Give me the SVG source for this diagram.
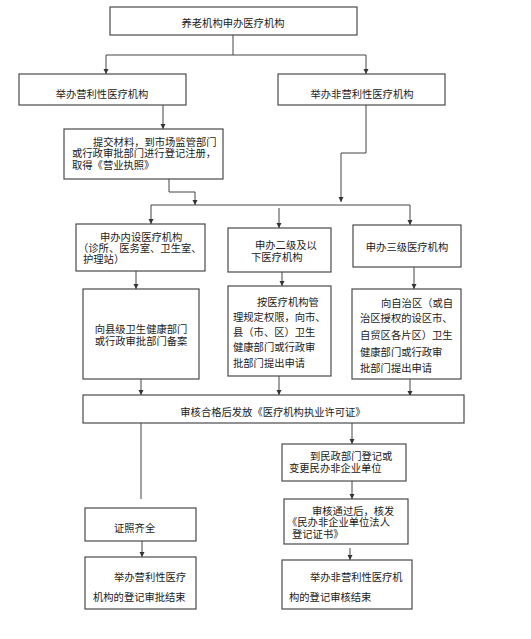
<svg xmlns="http://www.w3.org/2000/svg" width="531" height="639" viewBox="0 0 531 639">
<defs>
<marker id="ah" markerUnits="userSpaceOnUse" markerWidth="6" markerHeight="6" refX="5" refY="2.5" orient="auto">
<path d="M0,0 L5,2.5 L0,5 z" fill="#333"/>
</marker>
<style>
.box{fill:#fff;stroke:#4a4a4a;stroke-width:1.2}
.ln{fill:none;stroke:#444;stroke-width:1}
.ar{marker-end:url(#ah)}
text{font-family:"Noto Sans CJK SC","Noto Sans",sans-serif;font-size:10.3px;fill:#1a1a1a}
.c{text-anchor:middle}
</style>
</defs>
<rect width="531" height="639" fill="#fff"/>
<g id="connectors">
<path class="ln" d="M233 35V55M106 55H366"/>
<path class="ln ar" d="M106 55V74"/>
<path class="ln ar" d="M366 55V74"/>
<path class="ln ar" d="M163 105V129"/>
<path class="ln ar" d="M366 105V153H341V202"/>
<path class="ln ar" d="M169 179V192H195V205"/>
<path class="ln" d="M151 205H410"/>
<path class="ln ar" d="M151 205V224"/>
<path class="ln ar" d="M410 205V225"/>
<path class="ln ar" d="M279 208V228"/>
<path class="ln ar" d="M136 271V289"/>
<path class="ln ar" d="M282 272V286"/>
<path class="ln ar" d="M414 267V289"/>
<path class="ln ar" d="M141 379V395"/>
<path class="ln ar" d="M279 376V395"/>
<path class="ln ar" d="M410 379V396"/>
<path class="ln" d="M141 423V499"/>
<path class="ln ar" d="M352 423V444"/>
<path class="ln ar" d="M352 481V499"/>
<path class="ln ar" d="M350 548V560"/>
<path class="ln ar" d="M142 541V557"/>
</g>
<g id="n-top"><rect class="box" x="110" y="7" width="247" height="28"/><text class="c" x="233" y="27">养老机构申办医疗机构</text></g>
<g id="n-profit"><rect class="box" x="19" y="74" width="167" height="31"/><text class="c" x="102" y="98">举办营利性医疗机构</text></g>
<g id="n-nonprofit"><rect class="box" x="278" y="74" width="167" height="31"/><text class="c" x="362" y="98">举办非营利性医疗机构</text></g>
<g id="n-license"><rect class="box" x="64" y="129" width="159" height="50"/>
<text x="93" y="146">提交材料，到市场监管部门</text>
<text x="72" y="157">或行政审批部门进行登记注册，</text>
<text x="72" y="169">取得《营业执照》</text></g>
<g id="n-internal"><rect class="box" x="76" y="224" width="129" height="47"/>
<text x="100" y="241">申办内设医疗机构</text>
<text x="78" y="252">（诊所、医务室、卫生室、</text>
<text x="83" y="263">护理站）</text></g>
<g id="n-level2"><rect class="box" x="228" y="228" width="103" height="44"/>
<text x="255" y="249">申办二级及以</text>
<text x="251" y="261">下医疗机构</text></g>
<g id="n-level3"><rect class="box" x="353" y="225" width="108" height="42"/>
<text class="c" x="407" y="251">申办三级医疗机构</text></g>
<g id="n-filing"><rect class="box" x="83" y="289" width="116" height="90"/>
<text class="c" x="141" y="333">向县级卫生健康部门</text>
<text class="c" x="141" y="345">或行政审批部门备案</text></g>
<g id="n-apply2"><rect class="box" x="228" y="286" width="103" height="90"/>
<text x="257" y="306">按医疗机构管</text>
<text x="233" y="321">理规定权限，向市、</text>
<text x="233" y="336">县（市、区）卫生</text>
<text x="233" y="351">健康部门或行政审</text>
<text x="233" y="367">批部门提出申请</text></g>
<g id="n-apply3"><rect class="box" x="352" y="289" width="109" height="90"/>
<text x="381" y="307">向自治区（或自</text>
<text x="360" y="322">治区授权的设区市、</text>
<text x="360" y="339">自贸区各片区）卫生</text>
<text x="360" y="356">健康部门或行政审</text>
<text x="360" y="372">批部门提出申请</text></g>
<g id="n-permit"><rect class="box" x="83" y="395" width="381" height="28"/>
<text class="c" x="273" y="416">审核合格后发放《医疗机构执业许可证》</text></g>
<g id="n-complete"><rect class="box" x="85" y="508" width="111" height="33"/>
<text x="114" y="532">证照齐全</text></g>
<g id="n-civil"><rect class="box" x="282" y="444" width="124" height="37"/>
<text x="310" y="460">到民政部门登记或</text>
<text x="289" y="472">变更民办非企业单位</text></g>
<g id="n-cert"><rect class="box" x="284" y="499" width="124" height="45"/>
<text x="312" y="515">审核通过后，核发</text>
<text x="287" y="526">《民办非企业单位法人</text>
<text x="292" y="538">登记证书》</text></g>
<g id="n-end-profit"><rect class="box" x="85" y="557" width="111" height="52"/>
<text x="114" y="581">举办营利性医疗</text>
<text x="93" y="601">机构的登记审批结束</text></g>
<g id="n-end-nonprofit"><rect class="box" x="282" y="560" width="130" height="49"/>
<text x="310" y="581">举办非营利性医疗机</text>
<text x="289" y="601">构的登记审核结束</text></g>
</svg>
